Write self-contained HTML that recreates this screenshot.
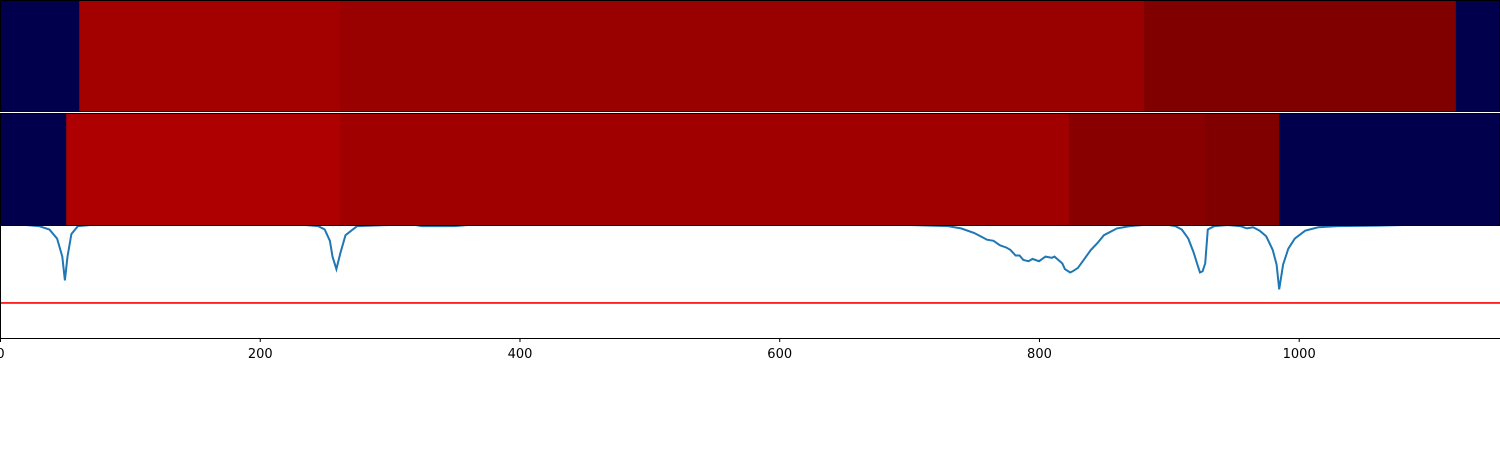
<!DOCTYPE html>
<html><head><meta charset="utf-8"><style>
body{margin:0;background:#fff;}
svg{display:block;font-family:"DejaVu Sans","Liberation Sans",sans-serif;}
</style></head><body>
<svg id="chart" width="1500" height="450"></svg>
<script>
// heatmap row 1: segment edges (x units) and values (0..1 seismic)
const row1Edges = [0, 61, 262, 881, 1121, 1155];
const row1Values = [0, 0.93, 0.95, 1.0, 0];
// heatmap row 2
const row2Edges = [0, 51, 262, 823, 928, 985, 1155];
const row2Values = [0, 0.909, 0.936, 0.983, 1.0, 0];
// line series
const lineX = [0,20,30,38,44,48,50,52,55,60,70,100,200,235,245,250,254,256,259,262,266,275,300,320,325,350,360,400,600,700,730,740,750,755,760,765,770,775,778,782,785,788,792,795,800,805,810,812,815,818,820,824,826,830,835,840,845,850,860,870,880,900,905,910,915,919,922,924,926,928,930,935,945,955,960,965,970,975,980,983,985,988,992,997,1005,1015,1030,1060,1080,1100,1155];
const lineY = [1.0,1.0,0.99,0.96,0.88,0.72,0.51,0.72,0.92,0.99,1.0,1.0,1.0,1.0,0.99,0.96,0.86,0.72,0.61,0.75,0.91,0.99,1.0,1.0,0.99,0.99,1.0,1.0,1.0,1.0,0.99,0.97,0.93,0.90,0.87,0.86,0.82,0.80,0.78,0.73,0.73,0.69,0.68,0.70,0.68,0.72,0.71,0.72,0.69,0.66,0.61,0.58,0.59,0.62,0.70,0.78,0.84,0.91,0.97,0.99,1.0,1.0,0.99,0.96,0.88,0.76,0.65,0.58,0.59,0.66,0.96,0.99,1.0,0.99,0.97,0.98,0.95,0.90,0.78,0.65,0.43,0.65,0.79,0.88,0.95,0.98,0.99,0.995,1.0,1.0,1.0];
const refValue = 0.31;
const xTicks = [0,200,400,600,800,1000];

const NS="http://www.w3.org/2000/svg";
const svg=document.getElementById('chart');
const X0=0,X1=1500,xMax=1155;
const xs=v=>X0+v*(X1-X0)/xMax;
const LT=225,LB=338;
const ys=v=>LB-v*(LB-LT);
function mk(t,a){const e=document.createElementNS(NS,t);for(const k in a)e.setAttribute(k,a[k]);svg.appendChild(e);return e;}
function seismic(v){
  let r,g,b;
  if(v<0.25){const t=v/0.25;r=0;g=0;b=0.3+0.7*t;}
  else if(v<0.5){const t=(v-0.25)/0.25;r=t;g=t;b=1;}
  else if(v<0.75){const t=(v-0.5)/0.25;r=1;g=1-t;b=1-t;}
  else{const t=(v-0.75)/0.25;r=1-0.5*t;g=0;b=0;}
  return `rgb(${Math.round(r*255)},${Math.round(g*255)},${Math.round(b*255)})`;
}
function heat(edges,vals,top,bot,name){
  for(let i=0;i<vals.length;i++){
    const r=mk('rect',{x:xs(edges[i]),y:top,width:xs(edges[i+1])-xs(edges[i])+0.5,height:bot-top,fill:seismic(vals[i])});
    
    
  }
  const f=mk('rect',{x:0.5,y:top+0.5,width:1499,height:bot-top-1,fill:'none',stroke:'#000','stroke-width':1});
  
  
}
// line
let d='';lineX.forEach((x,i)=>{d+=(i?'L':'M')+xs(x).toFixed(1)+','+ys(lineY[i]).toFixed(1);});
const ln=mk('path',{d:d,fill:'none',stroke:'#1f77b4','stroke-width':2});


const rl=mk('line',{x1:0,x2:1500,y1:ys(refValue),y2:ys(refValue),stroke:'#ff0000','stroke-width':1.6});


heat(row1Edges,row1Values,0,112,'heatmap-row-1');
heat(row2Edges,row2Values,113,226,'heatmap-row-2');
// axes
const ax=mk('line',{x1:0,x2:1500,y1:LB+0.5,y2:LB+0.5,stroke:'#000','stroke-width':1});


const ay=mk('line',{x1:0.5,x2:0.5,y1:LT,y2:LB,stroke:'#000','stroke-width':1});


xTicks.forEach(t=>{
  const tk=mk('line',{x1:xs(t)+0.5,x2:xs(t)+0.5,y1:LB,y2:LB+4,stroke:'#000'});
  
  
  const tx=mk('text',{x:xs(t)+0.5,y:LB+20,'text-anchor':'middle','font-size':13,fill:'#000'});
  tx.textContent=t;
  
  
});
</script>
</body></html>
